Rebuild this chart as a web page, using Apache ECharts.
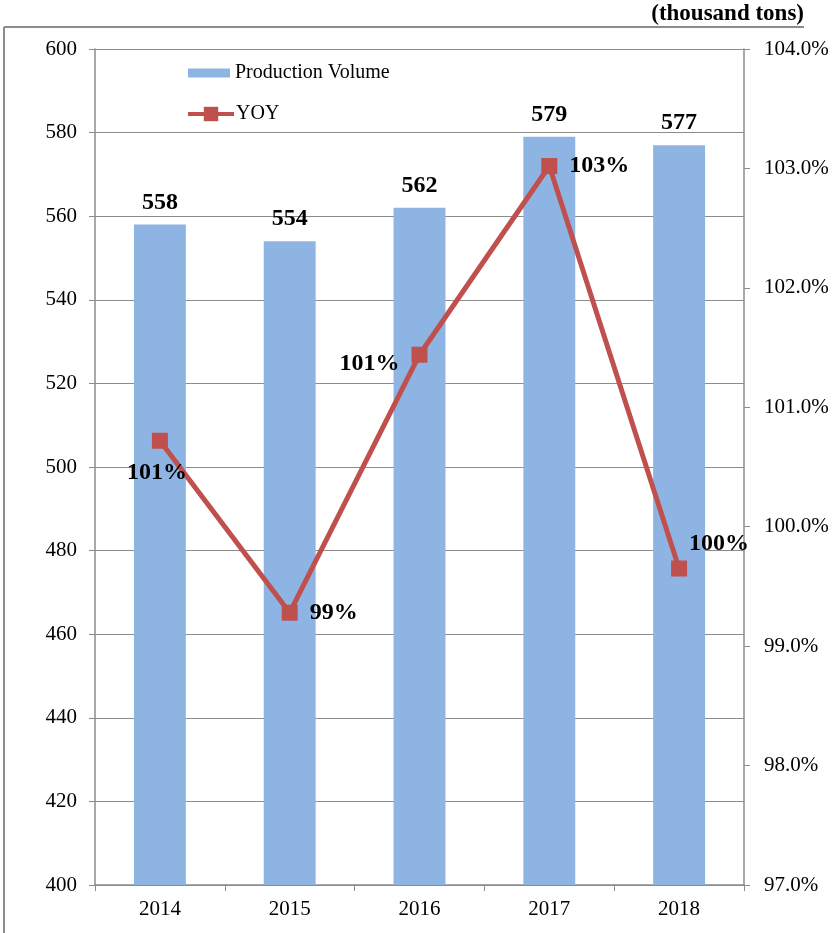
<!DOCTYPE html>
<html>
<head>
<meta charset="utf-8">
<script src="https://cdn.jsdelivr.net/npm/echarts@6/dist/echarts.min.js"></script>
<style>
  html, body { margin: 0; padding: 0; background: #fff; }
  #chart { width: 834px; height: 933px; }
</style>
</head>
<body>
<div id="chart"></div>
<script>
const years = ['2014', '2015', '2016', '2017', '2018']
const production = [558, 554, 562, 579, 577]
const yoy = [100.72, 99.28, 101.44, 103.02, 99.65]
// where each YOY label sits around its point
const yoyLabelPos = ['bottom', 'right', 'left', 'right', 'right']

const serif = 'Liberation Serif'
const axisGrey = '#8c8c8c'

const chart = echarts.init(document.getElementById('chart'))

const yoyData = yoy.map((v, i) => {
  const item = { value: v, label: { position: yoyLabelPos[i] } }
  if (i === 0) item.label.offset = [-3, 0]
  if (i === 2) item.label.offset = [0, 9]
  if (i === 4) item.label.offset = [-10, -25]
  return item
})

const option = {
  animation: false,
  backgroundColor: '#fff',
  textStyle: { fontFamily: serif },
  graphic: [
    { type: 'line', shape: { x1: 4, y1: 27, x2: 804, y2: 27 }, style: { stroke: '#8c8c8c', lineWidth: 2 } },
    { type: 'line', shape: { x1: 4, y1: 27, x2: 4, y2: 933 }, style: { stroke: '#8c8c8c', lineWidth: 2 } },
    {
      type: 'text', right: 30, top: 3,
      style: { text: '(thousand tons)', font: 'bold 23px "Liberation Serif"', fill: '#000' }
    }
  ],
  grid: { left: 95, right: 90, top: 49, bottom: 48 },
  legend: [{
    data: [{ name: 'Production Volume', icon: 'rect' }],
    left: 188, top: 63, padding: 0,
    itemWidth: 42, itemHeight: 9, itemGap: 4,
    textStyle: { fontFamily: serif, fontSize: 20, color: '#000' }
  }, {
    data: ['YOY'],
    left: 186, top: 104, padding: 0,
    itemWidth: 46, itemHeight: 18, itemGap: 4,
    lineStyle: { width: 4 },
    textStyle: { fontFamily: serif, fontSize: 20, color: '#000', padding: [0, 0, 0, -3] }
  }],
  xAxis: {
    type: 'category',
    data: years,
    axisLine: { lineStyle: { color: axisGrey, width: 1.5 } },
    axisTick: { show: true, alignWithLabel: false, length: 6, lineStyle: { color: axisGrey } },
    axisLabel: { color: '#000', fontSize: 21, fontFamily: serif, margin: 14 }
  },
  yAxis: [{
    type: 'value',
    min: 400, max: 600, interval: 20,
    axisLine: { show: true, lineStyle: { color: axisGrey, width: 1.5 } },
    axisTick: { show: true, length: 6, lineStyle: { color: axisGrey } },
    axisLabel: { color: '#000', fontSize: 21, fontFamily: serif, margin: 18 },
    splitLine: { lineStyle: { color: axisGrey, width: 1.2 } }
  }, {
    type: 'value',
    min: 97, max: 104, interval: 1,
    axisLine: { show: true, lineStyle: { color: axisGrey, width: 1.5 } },
    axisTick: { show: true, length: 6, lineStyle: { color: axisGrey } },
    axisLabel: {
      color: '#000', fontSize: 21, fontFamily: serif, margin: 20,
      formatter: v => v.toFixed(1) + '%'
    },
    splitLine: { show: false }
  }],
  series: [{
    name: 'Production Volume',
    type: 'bar',
    data: production,
    barWidth: '40%',
    itemStyle: { color: '#8eb4e3' },
    label: {
      show: true, position: 'top', distance: 10,
      color: '#000', fontSize: 24, fontWeight: 'bold', fontFamily: serif
    }
  }, {
    name: 'YOY',
    type: 'line',
    yAxisIndex: 1,
    data: yoyData,
    symbol: 'rect',
    symbolSize: 16,
    lineStyle: { color: '#c0504d', width: 5 },
    itemStyle: { color: '#c0504d' },
    label: {
      show: true, distance: 12,
      color: '#000', fontSize: 24, fontWeight: 'bold', fontFamily: serif,
      formatter: p => Math.round(p.value) + '%'
    }
  }]
}
chart.setOption(option)
</script>
</body>
</html>
